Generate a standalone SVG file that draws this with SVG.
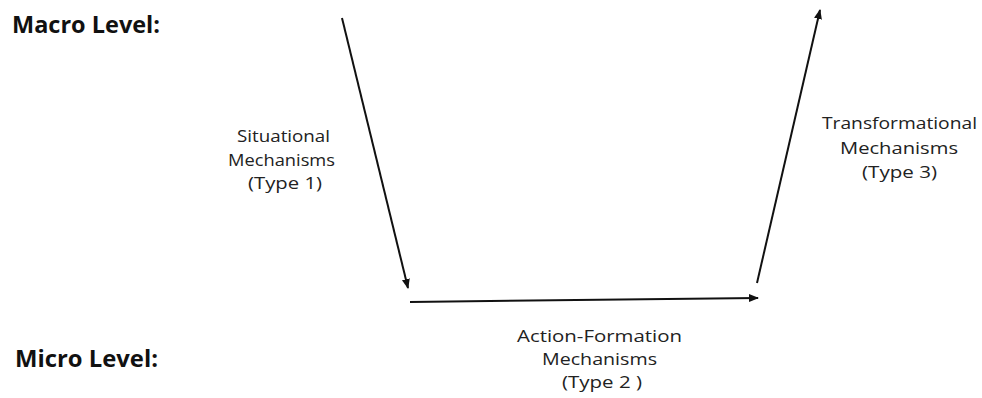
<svg xmlns="http://www.w3.org/2000/svg" width="982" height="398" viewBox="0 0 982 398">
<style>
.lvl{font-family:"Open Sans","Noto Sans",sans-serif;font-weight:bold;font-size:23px;fill:#111}
.lbl{font-family:"Open Sans","Noto Sans",sans-serif;font-size:16.5px;fill:#222;text-anchor:middle}
.con{stroke:#111;stroke-width:2;fill:none}
</style>
<defs>
<marker id="ah" viewBox="0 0 10 10" refX="9" refY="5" markerWidth="10" markerHeight="10" markerUnits="userSpaceOnUse" orient="auto">
<path d="M0,1 L10,5 L0,9 Z" fill="#111"/>
</marker>
</defs>
<rect width="982" height="398" fill="#fff"/>
<g id="macro-level"><text class="lvl" x="12" y="33" textLength="148" lengthAdjust="spacingAndGlyphs">Macro Level:</text></g>
<g id="micro-level"><text class="lvl" x="15" y="367" textLength="143" lengthAdjust="spacingAndGlyphs">Micro Level:</text></g>
<g id="connectors">
<line class="con" x1="342" y1="18" x2="408" y2="288" marker-end="url(#ah)"/>
<line class="con" x1="410" y1="302" x2="758" y2="298" marker-end="url(#ah)"/>
<line class="con" x1="757" y1="283" x2="820" y2="10" marker-end="url(#ah)"/>
</g>
<g id="situational">
<text class="lbl" x="283.5" y="142" textLength="93" lengthAdjust="spacingAndGlyphs">Situational</text>
<text class="lbl" x="281.5" y="166" textLength="107" lengthAdjust="spacingAndGlyphs">Mechanisms</text>
<text class="lbl" x="285" y="189" textLength="74" lengthAdjust="spacingAndGlyphs">(Type 1)</text>
</g>
<g id="action-formation">
<text class="lbl" x="599.5" y="342" textLength="165" lengthAdjust="spacingAndGlyphs">Action-Formation</text>
<text class="lbl" x="599.5" y="365" textLength="115" lengthAdjust="spacingAndGlyphs">Mechanisms</text>
<text class="lbl" x="602" y="388" textLength="80" lengthAdjust="spacingAndGlyphs">(Type 2 )</text>
</g>
<g id="transformational">
<text class="lbl" x="899.5" y="129" textLength="155" lengthAdjust="spacingAndGlyphs">Transformational</text>
<text class="lbl" x="899" y="154" textLength="118" lengthAdjust="spacingAndGlyphs">Mechanisms</text>
<text class="lbl" x="899.5" y="178" textLength="75" lengthAdjust="spacingAndGlyphs">(Type 3)</text>
</g>
</svg>
